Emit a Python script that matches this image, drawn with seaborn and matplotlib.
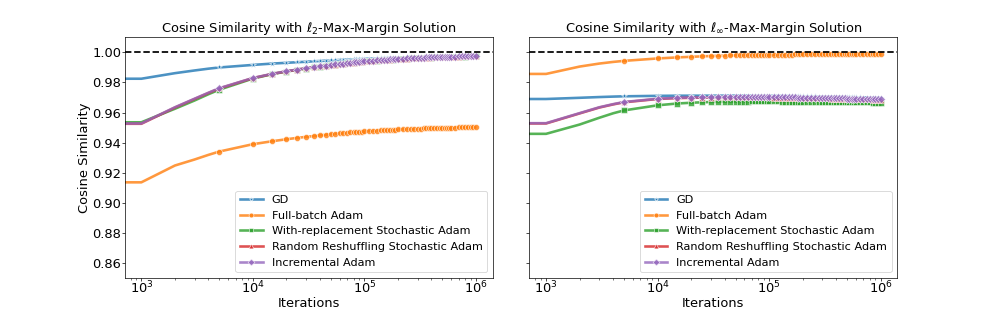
import numpy as np
import pandas as pd
import matplotlib
matplotlib.use("Agg")
import matplotlib.pyplot as plt
import seaborn as sns

iters = [0, 1000, 2000, 3000, 4000,
         5000, 10000, 15000, 20000, 25000, 30000, 35000, 40000, 45000, 50000,
         55000, 60000, 65000, 70000, 75000, 80000, 85000, 90000, 95000, 100000,
         110000, 120000, 130000, 140000, 150000, 160000, 170000, 180000, 190000, 200000,
         220000, 240000, 260000, 280000, 300000, 320000, 340000, 360000, 380000, 400000,
         425000, 450000, 475000, 500000, 525000, 550000, 575000, 600000,
         650000, 700000, 750000, 800000, 850000, 900000, 950000, 1000000]

methods = ["GD", "Full-batch Adam", "With-replacement Stochastic Adam",
           "Random Reshuffling Stochastic Adam", "Incremental Adam"]

l2_gd = [0.9825, 0.9825, 0.9862, 0.9880, 0.9892,
         0.9900, 0.9917, 0.9926, 0.9931, 0.9935, 0.9938, 0.9941, 0.9943, 0.9945, 0.9947,
         0.9948, 0.9950, 0.9951, 0.9952, 0.9953, 0.9954, 0.9955, 0.9955, 0.9956, 0.9957,
         0.9958, 0.9959, 0.9960, 0.9961, 0.9962, 0.9962, 0.9963, 0.9964, 0.9964, 0.9965,
         0.9966, 0.9967, 0.9967, 0.9968, 0.9969, 0.9969, 0.9970, 0.9970, 0.9971, 0.9971,
         0.9972, 0.9972, 0.9972, 0.9973, 0.9973, 0.9973, 0.9974, 0.9974,
         0.9975, 0.9975, 0.9976, 0.9976, 0.9977, 0.9977, 0.9977, 0.9978]
l2_full = [0.9135, 0.9135, 0.9247, 0.9287, 0.9318,
           0.9340, 0.9389, 0.9409, 0.9422, 0.9431, 0.9438, 0.9443, 0.9448, 0.9452, 0.9455,
           0.9458, 0.9461, 0.9463, 0.9466, 0.9468, 0.9469, 0.9470, 0.9471, 0.9473, 0.9475,
           0.9477, 0.9478, 0.9480, 0.9481, 0.9482, 0.9483, 0.9484, 0.9485, 0.9486, 0.9487,
           0.9488, 0.9489, 0.9490, 0.9491, 0.9492, 0.9493, 0.9494, 0.9494, 0.9495, 0.9496,
           0.9496, 0.9497, 0.9497, 0.9498, 0.9498, 0.9499, 0.9499, 0.9500,
           0.9500, 0.9501, 0.9501, 0.9502, 0.9502, 0.9503, 0.9503, 0.9503]
l2_wr = [0.9535, 0.9535, 0.9625, 0.9680, 0.9722,
         0.9752, 0.9826, 0.9856, 0.9873, 0.9884, 0.9893, 0.9900, 0.9906, 0.9910, 0.9914,
         0.9918, 0.9921, 0.9924, 0.9927, 0.9930, 0.9932, 0.9934, 0.9936, 0.9938, 0.9940,
         0.9942, 0.9944, 0.9946, 0.9948, 0.9949, 0.9951, 0.9952, 0.9953, 0.9954, 0.9955,
         0.9957, 0.9958, 0.9960, 0.9961, 0.9962, 0.9963, 0.9964, 0.9965, 0.9965, 0.9966,
         0.9967, 0.9968, 0.9968, 0.9969, 0.9969, 0.9970, 0.9970, 0.9971,
         0.9971, 0.9972, 0.9973, 0.9973, 0.9974, 0.9974, 0.9975, 0.9975]
l2_rr = [0.9525, 0.9525, 0.9633, 0.9690, 0.9730,
         0.9760, 0.9829, 0.9857, 0.9874, 0.9885, 0.9894, 0.9901, 0.9907, 0.9911, 0.9915,
         0.9919, 0.9922, 0.9925, 0.9928, 0.9931, 0.9933, 0.9935, 0.9937, 0.9939, 0.9941,
         0.9943, 0.9945, 0.9947, 0.9949, 0.9950, 0.9952, 0.9953, 0.9954, 0.9955, 0.9956,
         0.9958, 0.9959, 0.9961, 0.9962, 0.9963, 0.9964, 0.9965, 0.9966, 0.9966, 0.9967,
         0.9968, 0.9969, 0.9969, 0.9970, 0.9970, 0.9971, 0.9971, 0.9972,
         0.9972, 0.9973, 0.9974, 0.9974, 0.9975, 0.9975, 0.9976, 0.9976]
l2_inc = [0.9527, 0.9527, 0.9635, 0.9692, 0.9732,
          0.9762, 0.9830, 0.9858, 0.9875, 0.9886, 0.9895, 0.9902, 0.9908, 0.9912, 0.9916,
          0.9920, 0.9923, 0.9926, 0.9929, 0.9932, 0.9934, 0.9936, 0.9938, 0.9940, 0.9942,
          0.9944, 0.9946, 0.9948, 0.9950, 0.9951, 0.9953, 0.9954, 0.9955, 0.9956, 0.9957,
          0.9959, 0.9960, 0.9962, 0.9963, 0.9964, 0.9965, 0.9966, 0.9967, 0.9967, 0.9968,
          0.9969, 0.9970, 0.9970, 0.9971, 0.9971, 0.9972, 0.9972, 0.9973,
          0.9973, 0.9974, 0.9975, 0.9975, 0.9976, 0.9976, 0.9977, 0.9977]

linf_gd = [0.9690, 0.9690, 0.9698, 0.9703, 0.9706,
           0.9708, 0.9711, 0.9712, 0.9712, 0.9712, 0.9712, 0.9712, 0.9712, 0.9712, 0.9712,
           0.9712, 0.9712, 0.9712, 0.9711, 0.9711, 0.9711, 0.9711, 0.9711, 0.9711, 0.9711,
           0.9710, 0.9710, 0.9710, 0.9710, 0.9709, 0.9709, 0.9709, 0.9709, 0.9708, 0.9708,
           0.9708, 0.9707, 0.9707, 0.9706, 0.9706, 0.9706, 0.9705, 0.9705, 0.9705, 0.9704,
           0.9704, 0.9703, 0.9703, 0.9703, 0.9702, 0.9702, 0.9702, 0.9701,
           0.9701, 0.9700, 0.9700, 0.9699, 0.9699, 0.9698, 0.9698, 0.9697]
linf_full = [0.9857, 0.9857, 0.9906, 0.9926, 0.9937,
             0.9944, 0.9960, 0.9967, 0.9971, 0.9974, 0.9976, 0.9978, 0.9979, 0.9980, 0.9981,
             0.9981, 0.9982, 0.9982, 0.9983, 0.9983, 0.9984, 0.9984, 0.9984, 0.9985, 0.9985,
             0.9985, 0.9985, 0.9986, 0.9986, 0.9986, 0.9986, 0.9987, 0.9987, 0.9987, 0.9987,
             0.9987, 0.9988, 0.9988, 0.9988, 0.9988, 0.9988, 0.9988, 0.9989, 0.9989, 0.9989,
             0.9989, 0.9989, 0.9989, 0.9989, 0.9989, 0.9989, 0.9990, 0.9990,
             0.9990, 0.9990, 0.9990, 0.9990, 0.9990, 0.9990, 0.9990, 0.9990]
linf_wr = [0.9458, 0.9458, 0.9520, 0.9565, 0.9595,
           0.9614, 0.9648, 0.9660, 0.9665, 0.9668, 0.9670, 0.9671, 0.9672, 0.9672, 0.9673,
           0.9673, 0.9673, 0.9673, 0.9674, 0.9674, 0.9674, 0.9674, 0.9674, 0.9674, 0.9674,
           0.9674, 0.9674, 0.9673, 0.9673, 0.9673, 0.9673, 0.9673, 0.9673, 0.9673, 0.9672,
           0.9672, 0.9672, 0.9672, 0.9671, 0.9671, 0.9671, 0.9671, 0.9670, 0.9670, 0.9670,
           0.9670, 0.9669, 0.9669, 0.9669, 0.9669, 0.9668, 0.9668, 0.9668,
           0.9668, 0.9667, 0.9667, 0.9667, 0.9666, 0.9666, 0.9666, 0.9666]
linf_rr = [0.9527, 0.9527, 0.9594, 0.9633, 0.9654,
           0.9668, 0.9690, 0.9696, 0.9698, 0.9699, 0.9700, 0.9701, 0.9702, 0.9702, 0.9702,
           0.9702, 0.9702, 0.9702, 0.9702, 0.9701, 0.9701, 0.9701, 0.9701, 0.9701, 0.9701,
           0.9700, 0.9700, 0.9700, 0.9699, 0.9699, 0.9699, 0.9698, 0.9698, 0.9698, 0.9697,
           0.9697, 0.9696, 0.9696, 0.9695, 0.9695, 0.9694, 0.9694, 0.9693, 0.9693, 0.9693,
           0.9692, 0.9692, 0.9691, 0.9691, 0.9690, 0.9690, 0.9690, 0.9689,
           0.9689, 0.9688, 0.9687, 0.9687, 0.9686, 0.9685, 0.9685, 0.9684]
linf_inc = [0.9529, 0.9529, 0.9596, 0.9635, 0.9656,
            0.9670, 0.9692, 0.9698, 0.9700, 0.9701, 0.9702, 0.9703, 0.9704, 0.9704, 0.9704,
            0.9704, 0.9704, 0.9704, 0.9704, 0.9704, 0.9703, 0.9703, 0.9703, 0.9703, 0.9703,
            0.9703, 0.9702, 0.9702, 0.9702, 0.9701, 0.9701, 0.9701, 0.9700, 0.9700, 0.9700,
            0.9699, 0.9699, 0.9698, 0.9698, 0.9697, 0.9697, 0.9696, 0.9696, 0.9695, 0.9695,
            0.9695, 0.9694, 0.9694, 0.9693, 0.9693, 0.9692, 0.9692, 0.9692,
            0.9691, 0.9690, 0.9690, 0.9689, 0.9689, 0.9688, 0.9688, 0.9688]

titles = [r"Cosine Similarity with $\ell_2$-Max-Margin Solution",
          r"Cosine Similarity with $\ell_\infty$-Max-Margin Solution"]
panels = [[l2_gd, l2_full, l2_wr, l2_rr, l2_inc],
          [linf_gd, linf_full, linf_wr, linf_rr, linf_inc]]

colors = sns.color_palette("tab10", 5)
markers = ["*", "o", "s", "^", "D"]

DPI = 62.4
fig, axes = plt.subplots(1, 2, figsize=(997 / DPI, 312 / DPI), dpi=DPI, sharey=True)
fig.subplots_adjust(left=0.125, right=0.9, bottom=0.11, top=0.88, wspace=0.1)

mark_idx = [i for i, it in enumerate(iters) if it > 0 and it % 5000 == 0]

for ax, title, series in zip(axes, titles, panels):
    for name, vals, c, m in zip(methods, series, colors, markers):
        df = pd.DataFrame({"Iterations": iters[:len(vals)], "Cosine Similarity": vals})
        sns.lineplot(data=df, x="Iterations", y="Cosine Similarity", ax=ax,
                     color=c, marker=m, markersize=7, markevery=mark_idx,
                     linewidth=3, alpha=0.8, label=name, estimator=None)
    ax.axhline(1.0, color="black", linestyle="--", linewidth=2)
    ax.set_xscale("log")
    ax.set_title(title, fontsize=15, pad=4)
    ax.set_xlabel("Iterations", fontsize=15, labelpad=1)
    ax.tick_params(axis="y", which="major", labelsize=15, pad=0.5)
    ax.tick_params(axis="x", which="major", labelsize=15, pad=-1.5)
    ax.legend(loc="lower right", fontsize=13, markerscale=0.8)

axes[0].set_ylabel("Cosine Similarity", fontsize=15, labelpad=1)
axes[1].set_ylabel("")
axes[0].set_ylim(0.85, 1.01)

fig.savefig("out.png", dpi=DPI)
